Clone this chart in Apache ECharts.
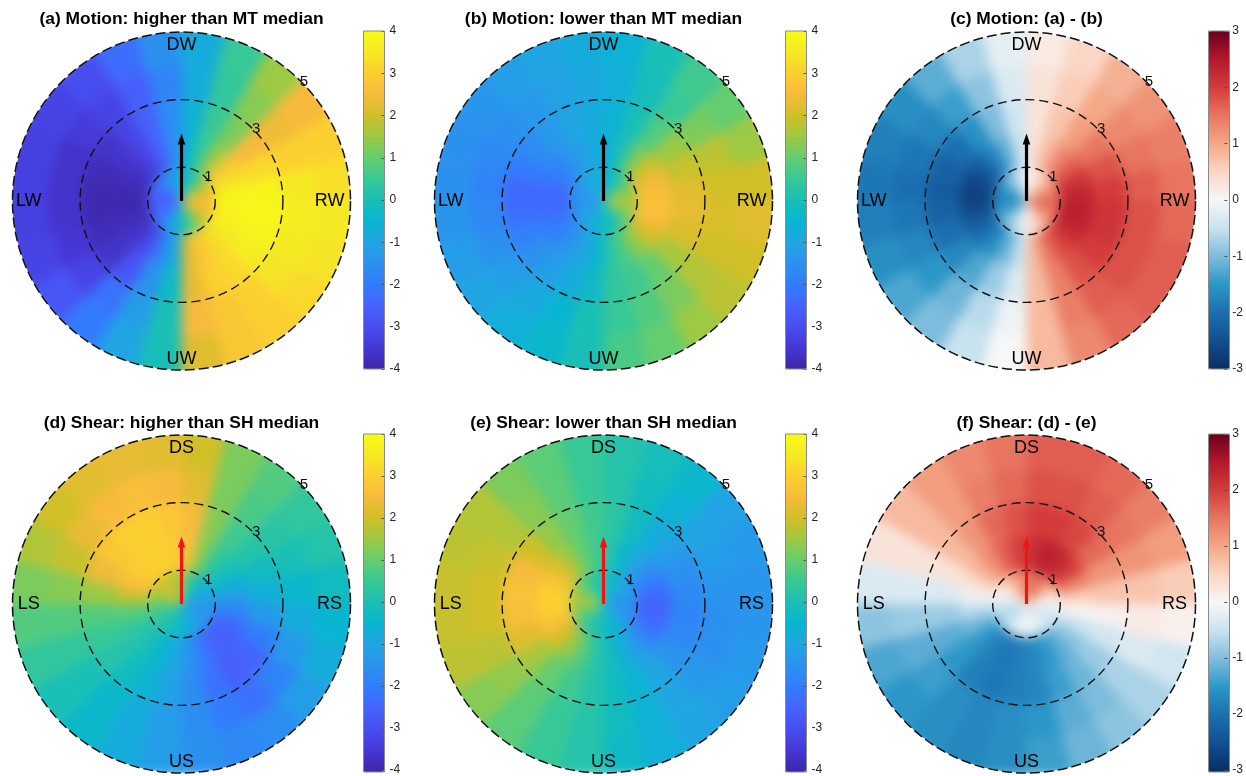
<!DOCTYPE html>
<html><head><meta charset="utf-8">
<script src="https://cdn.jsdelivr.net/npm/echarts@6/dist/echarts.min.js"></script>
<style>html,body{margin:0;padding:0;background:#fff}#c{width:1246px;height:776px}</style>
</head><body><div id="c"></div>
<script>
// ---------- bins ----------
const angleStarts = [0,15,30,45,60,75,90,105,120,135,150,165,180,195,210,225,240,255,270,285,300,315,330,345];
const angleStep = 15;
const ringInner = [0,1,2,3,4];
const ringOuter = [1,2,3,4,5];
const ringTicks = [1,3,5];
const ringTickLabels = ['1','3','5'];
const dirAngles = [0,90,180,270];
const motionDirs = ['DW','RW','UW','LW'];
const shearDirs = ['DS','RS','US','LS'];
const arrowLen = [2.0];
const seqTicks = [-4,-3,-2,-1,0,1,2,3,4];
const divTicks = [-3,-2,-1,0,1,2,3];
const titles = ['(a) Motion: higher than MT median','(b) Motion: lower than MT median','(c) Motion: (a) - (b)',
                '(d) Shear: higher than SH median','(e) Shear: lower than SH median','(f) Shear: (d) - (e)'];

// ---------- values (ring r0 = 0-1 ... r4 = 4-5; bins clockwise from top) ----------
const a_r0 = [-0.5,0.0,0.7,1.5,2.0,2.4,2.5,2.4,2.0,1.4,0.8,0.2,-0.5,-1.0,-1.6,-2.1,-2.4,-2.6,-2.6,-2.4,-2.1,-1.7,-1.2,-0.8];
const a_r1 = [-0.5,0.5,1.5,2.8,3.3,3.8,3.8,3.7,3.5,3.2,2.8,2.2,-0.8,-1.8,-3.0,-3.6,-3.8,-3.9,-3.9,-3.8,-3.6,-3.2,-2.5,-1.5];
const a_r2 = [-0.6,0.5,1.2,2.5,3.2,3.8,3.9,3.8,3.6,3.2,3.0,2.3,-0.3,-1.5,-2.8,-3.6,-3.8,-3.9,-3.9,-3.8,-3.6,-3.2,-2.5,-1.6];
const a_r3 = [-0.8,0.4,1.3,2.4,3.0,3.5,3.6,3.5,3.4,3.0,2.8,2.5,0.0,-1.2,-2.2,-3.2,-3.5,-3.6,-3.6,-3.6,-3.4,-3.2,-2.6,-1.8];
const a_r4 = [-0.8,0.5,1.5,2.5,3.0,3.3,3.5,3.4,3.2,3.0,2.8,2.2,0.0,-1.0,-2.0,-2.8,-3.2,-3.3,-3.3,-3.3,-3.2,-3.0,-2.3,-1.5];

const b_r0 = [-0.5,-0.2,0.3,0.8,1.3,1.6,1.6,1.4,0.9,0.4,0.1,-0.2,-0.5,-0.7,-0.9,-1.1,-1.3,-1.4,-1.4,-1.3,-1.1,-0.9,-0.7,-0.6];
const b_r1 = [-0.6,0.2,1.2,2.0,2.4,2.6,2.7,2.5,2.0,1.4,0.8,0.3,-0.5,-1.0,-1.4,-1.8,-2.1,-2.4,-2.4,-2.1,-1.8,-1.4,-1.1,-0.8];
const b_r2 = [-0.6,0.0,0.8,1.5,1.9,2.2,2.3,2.1,1.6,1.0,0.6,0.4,-0.3,-0.8,-1.2,-1.5,-1.9,-2.3,-2.4,-2.0,-1.6,-1.3,-1.0,-0.8];
const b_r3 = [-0.7,-0.1,0.5,1.2,1.8,2.0,2.1,2.0,1.7,1.2,0.8,0.5,0.0,-0.5,-0.9,-1.2,-1.5,-1.7,-1.8,-1.7,-1.5,-1.3,-1.1,-0.9];
const b_r4 = [-0.6,0.0,0.6,1.0,1.5,2.0,2.2,2.0,1.8,1.5,1.0,0.7,0.0,-0.4,-0.7,-1.0,-1.2,-1.4,-1.5,-1.5,-1.4,-1.2,-1.0,-0.8];

const c_r0 = [0.1,0.3,0.6,1.0,1.3,1.5,1.6,1.5,1.2,0.9,0.5,0.2,-0.2,-0.5,-0.8,-1.1,-1.4,-1.6,-1.7,-1.6,-1.3,-1.0,-0.6,-0.2];
const c_r1 = [0.3,0.8,1.3,1.7,2.1,2.3,2.4,2.4,2.2,1.9,1.5,0.8,-0.5,-1.1,-1.6,-2.0,-2.3,-2.6,-2.7,-2.6,-2.3,-1.8,-1.2,-0.5];
const c_r2 = [0.3,0.7,1.1,1.5,1.8,2.0,2.1,2.1,2.0,1.8,1.4,0.8,-0.3,-0.8,-1.3,-1.7,-2.0,-2.2,-2.3,-2.2,-2.0,-1.6,-1.0,-0.4];
const c_r3 = [0.3,0.6,1.0,1.3,1.5,1.7,1.8,1.8,1.8,1.7,1.4,0.8,-0.1,-0.6,-1.1,-1.5,-1.7,-1.9,-2.0,-1.9,-1.7,-1.4,-0.9,-0.3];
const c_r4 = [0.2,0.5,0.9,1.2,1.4,1.5,1.6,1.7,1.7,1.6,1.3,0.8,0.0,-0.5,-1.0,-1.3,-1.6,-1.8,-1.9,-1.8,-1.6,-1.2,-0.7,-0.2];

const d_r0 = [1.2,0.3,-0.2,-0.6,-0.9,-1.2,-1.3,-1.4,-1.3,-1.1,-0.8,-0.5,-0.3,-0.1,0.1,0.3,0.5,0.8,1.2,1.6,1.9,2.0,1.9,1.6];
const d_r1 = [2.6,1.3,0.4,0.0,-0.6,-1.2,-1.8,-2.4,-2.6,-2.5,-2.0,-1.4,-0.9,-0.5,-0.1,0.2,0.5,0.9,1.8,2.6,2.9,3.0,3.0,2.9];
const d_r2 = [2.5,1.3,0.6,0.2,-0.2,-0.7,-1.3,-2.0,-2.5,-2.6,-2.2,-1.6,-1.1,-0.6,-0.2,0.2,0.5,0.8,1.5,2.4,2.8,3.0,3.0,2.8];
const d_r3 = [2.2,1.2,0.7,0.3,0.0,-0.4,-0.8,-1.3,-1.8,-2.2,-2.0,-1.6,-1.2,-0.8,-0.4,0.0,0.4,0.8,1.3,1.9,2.3,2.5,2.6,2.5];
const d_r4 = [2.0,1.2,0.8,0.4,0.2,-0.2,-0.5,-0.8,-1.2,-1.6,-1.7,-1.5,-1.2,-0.8,-0.4,0.0,0.4,0.8,1.2,1.7,2.0,2.2,2.3,2.2];

const e_r0 = [-0.1,-0.4,-0.7,-1.0,-1.2,-1.4,-1.5,-1.4,-1.1,-0.8,-0.5,-0.3,-0.1,0.1,0.3,0.6,1.0,1.4,1.6,1.4,1.0,0.6,0.3,0.1];
const e_r1 = [0.2,-0.4,-1.0,-1.5,-2.0,-2.4,-2.5,-2.3,-1.8,-1.2,-0.7,-0.2,0.2,0.8,1.4,2.0,2.6,3.0,3.0,2.8,2.2,1.6,1.0,0.6];
const e_r2 = [0.3,-0.2,-0.8,-1.2,-1.5,-1.7,-1.8,-1.7,-1.4,-1.0,-0.6,-0.2,0.2,0.6,1.0,1.6,2.2,2.6,2.7,2.5,2.0,1.4,1.0,0.6];
const e_r3 = [0.2,-0.2,-0.6,-1.0,-1.2,-1.4,-1.5,-1.5,-1.3,-1.0,-0.6,-0.2,0.2,0.5,0.9,1.4,1.8,2.0,2.0,1.9,1.7,1.3,0.9,0.5];
const e_r4 = [0.2,-0.1,-0.4,-1.1,-1.3,-1.4,-1.4,-1.3,-1.2,-1.0,-0.7,-0.3,0.2,0.5,0.9,1.3,1.8,1.9,1.9,1.8,1.7,1.2,0.9,0.5];

const f_r0 = [1.5,1.6,1.4,1.0,0.5,0.1,-0.2,-0.4,-0.4,-0.3,-0.2,-0.1,-0.1,-0.2,-0.4,-0.6,-0.7,-0.5,-0.2,0.1,0.4,0.7,1.0,1.3];
const f_r1 = [2.2,2.4,2.3,2.0,1.4,0.6,0.0,-0.5,-0.9,-1.2,-1.5,-1.7,-1.8,-1.9,-1.8,-1.5,-1.1,-0.6,-0.1,0.4,0.9,1.3,1.7,2.0];
const f_r2 = [2.0,2.0,1.9,1.6,1.2,0.7,0.1,-0.4,-0.8,-1.1,-1.4,-1.7,-1.8,-1.9,-1.8,-1.5,-1.2,-0.8,-0.3,0.3,0.8,1.2,1.6,1.8];
const f_r3 = [1.8,1.8,1.7,1.5,1.2,0.7,0.2,-0.3,-0.7,-1.0,-1.2,-1.5,-1.6,-1.7,-1.6,-1.4,-1.2,-0.8,-0.3,0.3,0.8,1.1,1.4,1.6];
const f_r4 = [1.7,1.7,1.6,1.4,1.1,0.6,0.1,-0.4,-0.7,-0.9,-1.1,-1.4,-1.6,-1.7,-1.6,-1.5,-1.3,-0.9,-0.3,0.3,0.8,1.1,1.3,1.5];

// ---------- colormaps ----------
const PARULA = ['#3e26a8','#4537d5','#484df0','#4563fd','#327cfc','#2b91ef','#20a5e3','#08b5d0','#19bfb6',
                '#37c897','#64cd6f','#9dc943','#d1bf27','#f8ba3d','#fccf30','#f5e924','#f9fb15'];
const RDBU = ['#0a2d62','#114f92','#1b6fb0','#2b97c8','#7dbcdc','#c8e2ef','#f7f7f7','#fbd6c5','#f4a886',
              '#e87560','#d43b3b','#b3182b','#67001f'];

// ---------- layout ----------
const CX = [181.5, 603.5, 1026.5];
const CY = [201, 604];
const RPX = 169;
const CB_OFF = 182, CB_W = 21, CB_H = 338;
const dirLabelR = [4.62, 4.38, 4.67, 4.52];
const FONT = '"Liberation Sans", Arial, Helvetica, sans-serif';
const HEAT_BLEED = 10;   // px the outer ring is painted past the rim (hidden by the mask)
const MASK_W = 34;       // width of the white rim mask
const BLUR_PX = 6;       // soft shading of the heat layer

const panelRings = [
  [a_r0,a_r1,a_r2,a_r3,a_r4],[b_r0,b_r1,b_r2,b_r3,b_r4],[c_r0,c_r1,c_r2,c_r3,c_r4],
  [d_r0,d_r1,d_r2,d_r3,d_r4],[e_r0,e_r1,e_r2,e_r3,e_r4],[f_r0,f_r1,f_r2,f_r3,f_r4]
];
const rMax = ringOuter[ringOuter.length - 1];

function renderHeat(params, api){
  const cs = params.coordSys;
  const rIn = api.value(0), rOut = api.value(1), a0 = api.value(2), a1 = api.value(3);
  const pOut0 = api.coord([rOut, a0]);
  const pOut1 = api.coord([rOut, a1]);
  const pIn = api.coord([rIn, a0]);
  let R = Math.hypot(pOut0[0]-cs.cx, pOut0[1]-cs.cy);
  if (rOut >= rMax) R += HEAT_BLEED;
  const R0 = Math.hypot(pIn[0]-cs.cx, pIn[1]-cs.cy);
  const s = Math.atan2(pOut0[1]-cs.cy, pOut0[0]-cs.cx);
  let e = Math.atan2(pOut1[1]-cs.cy, pOut1[0]-cs.cx);
  while (e <= s) e += 2*Math.PI;
  const col = api.visual('color');
  return {type:'sector', shape:{cx:cs.cx, cy:cs.cy, r0:R0, r:R, startAngle:s, endAngle:e, clockwise:true},
          style:{fill:col, stroke:col, lineWidth:0.6}};
}
function renderMask(params, api){
  const cs = params.coordSys;
  const p = api.coord([api.value(0), 0]);
  const R = Math.hypot(p[0]-cs.cx, p[1]-cs.cy);
  return {type:'ring', shape:{cx:cs.cx, cy:cs.cy, r0:R, r:R + MASK_W}, style:{fill:'#fff'}};
}
function renderRings(params, api){
  const cs = params.coordSys;
  const r = api.value(0);
  const p = api.coord([r, 0]);
  const R = Math.hypot(p[0]-cs.cx, p[1]-cs.cy);
  const q = api.coord([r, 45]);
  const outer = r >= rMax;
  return {type:'group', children:[
    {type:'circle', shape:{cx:cs.cx, cy:cs.cy, r:R},
     style:{fill:'none', stroke:'#111', lineWidth: outer ? 1.5 : 1.4, lineDash: outer ? [10,4] : [9,5]}},
    {type:'text', x:q[0]+3, y:q[1], style:{text:ringTickLabels[params.dataIndex], font:'15px '+FONT, fill:'#111', align:'center', verticalAlign:'middle'}}
  ]};
}
function makeDirRenderer(labels){
  return function(params, api){
    const p = api.coord([api.value(0), api.value(1)]);
    return {type:'text', x:p[0], y:p[1], style:{text:labels[params.dataIndex], font:'18px '+FONT, fill:'#000', align:'center', verticalAlign:'middle'}};
  };
}
function makeArrowRenderer(color){
  return function(params, api){
    const c = api.coord([0, api.value(1)]);
    const t = api.coord([api.value(0), api.value(1)]);
    const L = Math.hypot(t[0]-c[0], t[1]-c[1]);
    const ux = (t[0]-c[0])/L, uy = (t[1]-c[1])/L;
    const hl = 11, hw = 3.8;
    const bx = t[0]-ux*hl, by = t[1]-uy*hl;
    const nx = -uy, ny = ux;
    return {type:'group', children:[
      {type:'line', shape:{x1:c[0], y1:c[1], x2:bx+ux*1, y2:by+uy*1}, style:{stroke:color, lineWidth:3.2}},
      {type:'polygon', shape:{points:[[t[0],t[1]],[bx+nx*hw,by+ny*hw],[bx-nx*hw,by-ny*hw]]}, style:{fill:color}}
    ]};
  };
}

const polar = [], angleAxis = [], radiusAxis = [], grid = [], xAxis = [], yAxis = [], visualMap = [], series = [], graphic = [];
for (let p = 0; p < 6; p++){
  const row = p < 3 ? 0 : 1, col = p % 3;
  const cx = CX[col], cy = CY[row];
  const diverging = col === 2;
  polar.push({center:[cx, cy], radius:RPX});
  angleAxis.push({polarIndex:p, type:'value', min:0, max:360, startAngle:90, clockwise:true, show:false});
  radiusAxis.push({polarIndex:p, type:'value', min:0, max:rMax, show:false});
  const data = [];
  panelRings[p].forEach((ring, i) => {
    ring.forEach((v, k) => {
      data.push([ringInner[i], ringOuter[i], angleStarts[k], angleStarts[k] + angleStep, v]);
    });
  });
  const heatIdx = series.length;
  series.push({type:'custom', coordinateSystem:'polar', polarIndex:p, renderItem:renderHeat, data:data,
               encode:{radius:[0,1], angle:[2,3]}, silent:true, zlevel:1, z:1});
  series.push({type:'custom', coordinateSystem:'polar', polarIndex:p, renderItem:renderMask,
               data:[[rMax, 0]], encode:{radius:0, angle:1}, silent:true, zlevel:2, z:1});
  series.push({type:'custom', coordinateSystem:'polar', polarIndex:p, renderItem:renderRings,
               data:ringTicks.map(r => [r, 45]), encode:{radius:0, angle:1}, silent:true, zlevel:2, z:3});
  const dirs = row === 0 ? motionDirs : shearDirs;
  series.push({type:'custom', coordinateSystem:'polar', polarIndex:p, renderItem:makeDirRenderer(dirs),
               data:dirAngles.map((a, i) => [dirLabelR[i], a]), encode:{radius:0, angle:1}, silent:true, zlevel:2, z:4});
  series.push({type:'custom', coordinateSystem:'polar', polarIndex:p, renderItem:makeArrowRenderer(row === 0 ? '#000' : '#f01414'),
               data:[[arrowLen[0], 0]], encode:{radius:0, angle:1}, silent:true, zlevel:2, z:5});
  const cbLeft = cx + CB_OFF, cbTop = cy - 170;
  const lo = diverging ? -3 : -4, hi = diverging ? 3 : 4;
  visualMap.push({type:'continuous', seriesIndex:heatIdx, dimension:4, min:lo, max:hi,
                  inRange:{color: diverging ? RDBU : PARULA}, calculable:false, show:true, text:null, showLabel:false,
                  left:cbLeft, top:cbTop, itemWidth:CB_W, itemHeight:CB_H, padding:0, orient:'vertical', hoverLink:false,
                  zlevel:2, z:6});
  grid.push({left:cbLeft, top:cbTop, width:CB_W, height:CB_H, show:false});
  xAxis.push({gridIndex:p, type:'value', show:false, min:0, max:1});
  yAxis.push({gridIndex:p, type:'value', position:'right', min:lo, max:hi, interval:1, zlevel:2, z:10,
              axisLine:{show:false, onZero:false}, splitLine:{show:false},
              axisTick:{show:true, inside:true, length:3, lineStyle:{color:'#555', width:1}},
              axisLabel:{show:true, fontSize:12, color:'#262626', margin:5, fontFamily:FONT,
                         customValues: diverging ? divTicks : seqTicks}});
  graphic.push({type:'rect', shape:{x:cbLeft, y:cbTop, width:CB_W, height:CB_H}, style:{fill:null, stroke:'#8a8a8a', lineWidth:1}, zlevel:2, z:100, silent:true});
  graphic.push({type:'text', x:cx, y:row === 0 ? 19.5 : 423, style:{text:titles[p], font:'bold 17.4px '+FONT, fill:'#000', align:'center', verticalAlign:'middle'}, zlevel:2, z:100, silent:true});
}

const chart = echarts.init(document.getElementById('c'), null, {renderer:'canvas', width:1246, height:776});
chart.setOption({
  animation:false,
  backgroundColor:'#fff',
  polar, angleAxis, radiusAxis, grid, xAxis, yAxis, visualMap, series, graphic
});
// soften the heat layer (zlevel 1) so the cells shade into each other
chart.getDom().querySelectorAll('canvas').forEach(cv => {
  if (cv.getAttribute('data-zr-dom-id') === 'zr_1') cv.style.filter = 'blur(' + BLUR_PX + 'px)';
});
</script></body></html>
